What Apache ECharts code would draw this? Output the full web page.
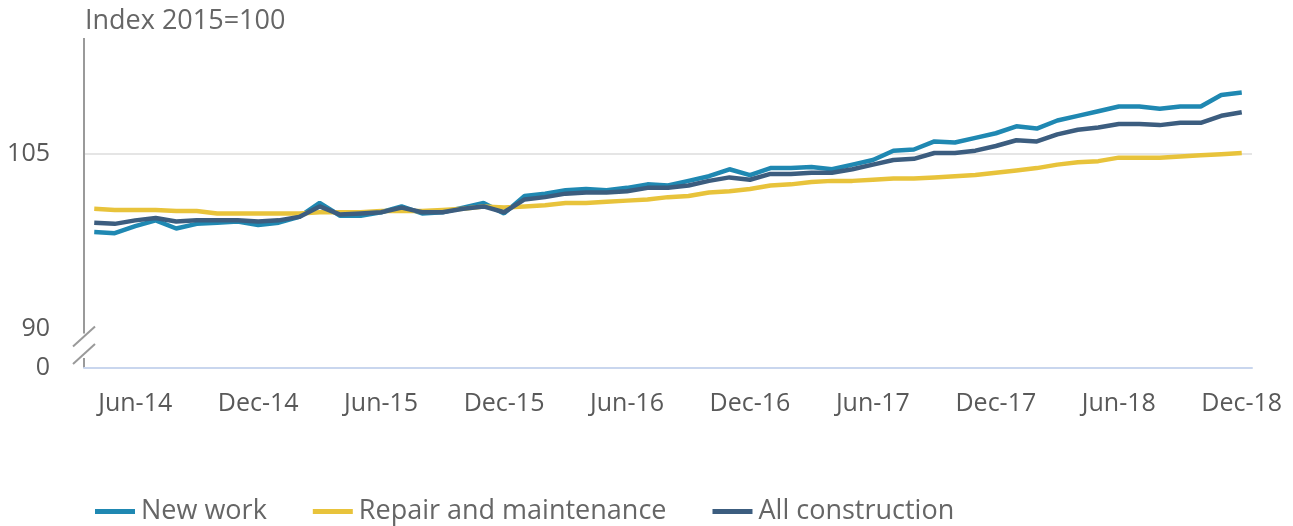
<!DOCTYPE html>
<html>
<head>
<meta charset="utf-8">
<script src="https://cdn.jsdelivr.net/npm/echarts@6/dist/echarts.min.js"></script>
<style>
  html, body { margin: 0; padding: 0; background: #fff; }
  #chart { width: 1293px; height: 526px; }
</style>
</head>
<body>
<div id="chart"></div>
<script>
const months = [
  'Apr-14', 'May-14', 'Jun-14', 'Jul-14', 'Aug-14', 'Sep-14', 'Oct-14', 'Nov-14', 'Dec-14',
  'Jan-15', 'Feb-15', 'Mar-15', 'Apr-15', 'May-15', 'Jun-15', 'Jul-15', 'Aug-15', 'Sep-15', 'Oct-15', 'Nov-15', 'Dec-15',
  'Jan-16', 'Feb-16', 'Mar-16', 'Apr-16', 'May-16', 'Jun-16', 'Jul-16', 'Aug-16', 'Sep-16', 'Oct-16', 'Nov-16', 'Dec-16',
  'Jan-17', 'Feb-17', 'Mar-17', 'Apr-17', 'May-17', 'Jun-17', 'Jul-17', 'Aug-17', 'Sep-17', 'Oct-17', 'Nov-17', 'Dec-17',
  'Jan-18', 'Feb-18', 'Mar-18', 'Apr-18', 'May-18', 'Jun-18', 'Jul-18', 'Aug-18', 'Sep-18', 'Oct-18', 'Nov-18', 'Dec-18'
];

const newWork = [
  98.3, 98.2, 98.8, 99.3, 98.6, 99.0, 99.1, 99.2, 98.9,
  99.1, 99.6, 100.8, 99.7, 99.7, 100.0, 100.5, 99.9, 100.0, 100.4, 100.8, 99.9,
  101.4, 101.6, 101.9, 102.0, 101.9, 102.1, 102.4, 102.3, 102.7, 103.1, 103.7, 103.2,
  103.8, 103.8, 103.9, 103.7, 104.1, 104.5, 105.3, 105.4, 106.1, 106.0, 106.4, 106.8,
  107.4, 107.2, 107.9, 108.3, 108.7, 109.1, 109.1, 108.9, 109.1, 109.1, 110.1, 110.3
];

const repair = [
  100.3, 100.2, 100.2, 100.2, 100.1, 100.1, 99.9, 99.9, 99.9,
  99.9, 99.9, 100.0, 100.0, 100.0, 100.1, 100.1, 100.1, 100.2, 100.3, 100.5, 100.4,
  100.5, 100.6, 100.8, 100.8, 100.9, 101.0, 101.1, 101.3, 101.4, 101.7, 101.8, 102.0,
  102.3, 102.4, 102.6, 102.7, 102.7, 102.8, 102.9, 102.9, 103.0, 103.1, 103.2, 103.4,
  103.6, 103.8, 104.1, 104.3, 104.4, 104.7, 104.7, 104.7, 104.8, 104.9, 105.0, 105.1
];

const allConstruction = [
  99.1, 99.0, 99.3, 99.5, 99.2, 99.3, 99.3, 99.3, 99.2,
  99.3, 99.6, 100.5, 99.8, 99.9, 100.0, 100.4, 100.0, 100.0, 100.3, 100.5, 100.0,
  101.1, 101.3, 101.6, 101.7, 101.7, 101.8, 102.1, 102.1, 102.3, 102.7, 103.0, 102.8,
  103.3, 103.3, 103.4, 103.4, 103.7, 104.1, 104.5, 104.6, 105.1, 105.1, 105.3, 105.7,
  106.2, 106.1, 106.7, 107.1, 107.3, 107.6, 107.6, 107.5, 107.7, 107.7, 108.3, 108.6
];

const seriesNames = ['New work', 'Repair and maintenance', 'All construction'];
const seriesColors = ['#1f88b2', '#e8c33b', '#3c5d7f'];

const chart = echarts.init(document.getElementById('chart'));
const font = '"Open Sans", sans-serif';
const showMonth = (i) => (i - 2) % 6 === 0;

function lineSeries(name, data, color) {
  return {
    name: name,
    type: 'line',
    data: data,
    symbol: 'none',
    color: color,
    lineStyle: { width: 4.5, color: color },
    emphasis: { disabled: true }
  };
}

chart.setOption({
  animation: false,
  textStyle: { fontFamily: font },
  title: {
    text: 'Index 2015=100',
    left: 80,
    top: 3,
    textStyle: { fontFamily: font, fontSize: 27, fontWeight: 'normal', color: '#666' }
  },
  grid: { left: 84, right: 41, top: 38, bottom: 158 },
  legend: {
    data: seriesNames,
    left: 90,
    top: 493,
    icon: 'rect',
    itemWidth: 40,
    itemHeight: 5,
    itemGap: 46,
    textStyle: { fontFamily: font, fontSize: 27, color: '#666', padding: [0, 0, 0, 1] }
  },
  xAxis: {
    type: 'category',
    data: months,
    boundaryGap: true,
    axisLine: { lineStyle: { color: '#c9d6ee', width: 2 } },
    axisTick: { alignWithLabel: true, interval: showMonth, length: 20, lineStyle: { color: '#c9d6ee', width: 2 } },
    axisLabel: { interval: showMonth, margin: 23, fontSize: 25, color: '#595959', fontFamily: font },
    splitLine: { show: false }
  },
  yAxis: {
    type: 'value',
    min: 0,
    max: 115,
    interval: 15,
    breaks: [{ start: 0, end: 90, gap: '12%' }],
    breakArea: { show: false },
    axisLine: { show: false },
    axisTick: { show: false },
    axisLabel: { margin: 34, fontSize: 25, color: '#595959', fontFamily: font, showMaxLabel: false },
    splitLine: { show: true, showMaxLine: false, showMinLine: false, lineStyle: { color: '#e5e5e5', width: 2 } }
  },
  series: [
    lineSeries(seriesNames[0], newWork, seriesColors[0]),
    lineSeries(seriesNames[1], repair, seriesColors[1]),
    lineSeries(seriesNames[2], allConstruction, seriesColors[2])
  ]
});

// axis line with the break marks, placed from the axis scale
const axisX = 84;
const yTop = 38;
const y90 = chart.convertToPixel({ yAxisIndex: 0 }, 90);
const y0 = chart.convertToPixel({ yAxisIndex: 0 }, 0);
const axisStyle = { stroke: '#9a9a9a', lineWidth: 2 };
const slash = (cy) => ({
  type: 'line',
  shape: { x1: axisX - 11, y1: cy + 10, x2: axisX + 11, y2: cy - 10 },
  style: axisStyle
});

chart.setOption({
  graphic: [
    { type: 'line', shape: { x1: axisX, y1: yTop, x2: axisX, y2: y90 + 5 }, style: axisStyle },
    { type: 'line', shape: { x1: axisX, y1: y0 - 10, x2: axisX, y2: y0 }, style: axisStyle },
    slash(y90 + 8),
    slash(y0 - 14)
  ]
});

window.addEventListener('resize', () => chart.resize());
</script>
</body>
</html>
